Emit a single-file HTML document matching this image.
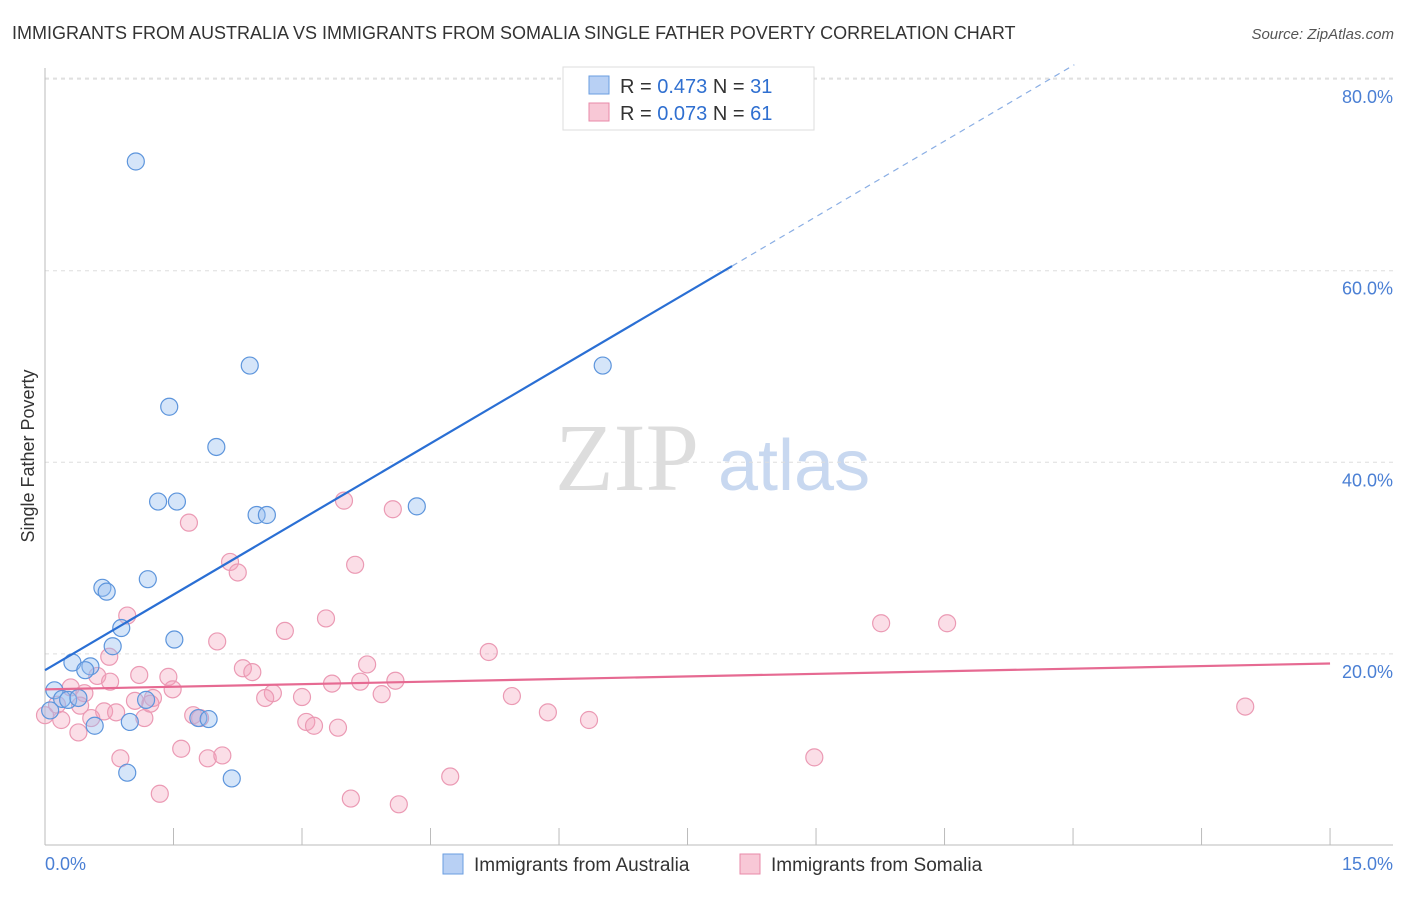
<!DOCTYPE html>
<html><head><meta charset="utf-8"><style>
body{margin:0;background:#fff;font-family:"Liberation Sans",sans-serif}
</style></head><body>
<svg width="1406" height="892" xmlns="http://www.w3.org/2000/svg" font-family="Liberation Sans, sans-serif">
<text x="12" y="39" font-size="18" fill="#333">IMMIGRANTS FROM AUSTRALIA VS IMMIGRANTS FROM SOMALIA SINGLE FATHER POVERTY CORRELATION CHART</text>
<text x="1394" y="39" font-size="15" fill="#555" text-anchor="end" font-style="italic">Source: ZipAtlas.com</text>
<text x="555" y="490" font-size="96" fill="#ddd" font-family="Liberation Serif, serif">ZIP</text>
<text x="718" y="490" font-size="72" fill="#c8d8f0">atlas</text>
<g id="grid"></g>
<line x1="45" y1="68" x2="45" y2="845" stroke="#bbb"/>
<line x1="45" y1="845" x2="1393" y2="845" stroke="#bbb"/>
<text transform="translate(34,456) rotate(-90)" font-size="18" fill="#333" text-anchor="middle">Single Father Poverty</text>
<text x="45" y="870" font-size="18" fill="#4a7fd4">0.0%</text>
<text x="1393" y="870" font-size="18" fill="#4a7fd4" text-anchor="end">15.0%</text>
<g id="pts"></g>
<g id="lines"></g>
<g>
<rect x="563" y="67" width="251" height="63" fill="#fff" stroke="#ddd"/>
<rect x="589" y="76" width="20" height="18" fill="#b8d0f4" stroke="#6a9ee0"/>
<rect x="589" y="103" width="20" height="18" fill="#f8c8d6" stroke="#e88aa8"/>
<text x="620" y="93" font-size="20" fill="#333">R = <tspan fill="#2f6fd0">0.473</tspan>   N = <tspan fill="#2f6fd0">31</tspan></text>
<text x="620" y="120" font-size="20" fill="#333">R = <tspan fill="#2f6fd0">0.073</tspan>   N = <tspan fill="#2f6fd0">61</tspan></text>
</g>
<g>
<rect x="443" y="854" width="20" height="20" fill="#b8d0f4" stroke="#6a9ee0"/>
<text x="474" y="871" font-size="19" fill="#333">Immigrants from Australia</text>
<rect x="740" y="854" width="20" height="20" fill="#f8c8d6" stroke="#e88aa8"/>
<text x="771" y="871" font-size="19" fill="#333">Immigrants from Somalia</text>
</g>
</svg>
<script>
const yTicks=[20,40,60,80];
const yTickLabels=["20.0%","40.0%","60.0%","80.0%"];
const xTicks=[0,1.5,3,4.5,6,7.5,9,10.5,12,13.5,15];
const ausX=[1.06,2.39,1.45,2.00,1.32,1.54,2.47,2.59,4.34,6.51,0.67,0.72,1.20,0.89,1.51,0.79,0.32,0.53,0.47,0.11,0.20,0.27,0.39,1.18,0.58,0.99,1.79,1.91,0.96,2.18,0.06];
const ausY=[71.4,50.1,45.8,41.6,35.9,35.9,34.5,34.5,35.4,50.1,26.9,26.5,27.8,22.7,21.5,20.8,19.1,18.7,18.3,16.2,15.3,15.2,15.4,15.2,12.5,12.9,13.3,13.2,7.6,7.0,14.1];
const somX=[1.68,3.49,4.06,2.16,2.25,3.62,0.96,3.28,2.80,2.01,0.75,5.18,3.76,2.31,2.42,1.10,1.44,0.61,0.30,1.49,0.46,3.35,3.68,4.09,2.66,2.57,3.00,3.93,1.26,1.05,5.45,9.76,10.53,14.01,0.69,0.83,1.16,0.54,0.19,1.73,1.81,3.05,3.14,3.42,5.87,6.35,0.39,1.59,0.88,1.90,2.07,8.98,4.73,1.34,3.57,4.13,0.0,0.14,0.76,1.23,0.41];
const somY=[33.7,36.0,35.1,29.6,28.5,29.3,24.0,23.7,22.4,21.3,19.7,20.2,18.9,18.5,18.1,17.8,17.6,17.7,16.5,16.3,15.9,16.9,17.1,17.2,15.9,15.4,15.5,15.8,15.4,15.1,15.6,23.2,23.2,14.5,14.0,13.9,13.3,13.3,13.1,13.6,13.3,12.9,12.5,12.3,13.9,13.1,11.8,10.1,9.1,9.1,9.4,9.2,7.2,5.4,4.9,4.3,13.6,14.7,17.1,14.8,14.6];
const ausTrend=[18.3,5.26];
const somTrend=[16.3,0.18];
const X=v=>45+v*85.67, Y=v=>845.5-v*9.58;
const NS="http://www.w3.org/2000/svg";
function mk(tag,attrs,parent){const e=document.createElementNS(NS,tag);for(const k in attrs)e.setAttribute(k,attrs[k]);parent.appendChild(e);return e;}
const grid=document.getElementById('grid');
yTicks.forEach((t,i)=>{
 const l=mk('line',{x1:45,x2:1393,y1:Y(t),y2:Y(t),stroke:'#ddd','stroke-dasharray':'4,4'},grid);
 
 
 const tx=mk('text',{x:1393,y:Y(t)+24,'font-size':18,fill:'#4a7fd4','text-anchor':'end'},grid);
 tx.textContent=yTickLabels[i];
 
 
});
mk('line',{x1:45,x2:1393,y1:Y(80)-1,y2:Y(80)-1,stroke:'#ddd','stroke-dasharray':'4,4'},grid);
xTicks.forEach(t=>{
 const l=mk('line',{x1:X(t),x2:X(t),y1:845,y2:828,stroke:'#bbb'},grid);
 
 
});
const pts=document.getElementById('pts');
somX.forEach((x,i)=>{
 const c=mk('circle',{cx:X(x),cy:Y(somY[i]),r:8.5,fill:'rgba(244,160,186,0.35)',stroke:'#eb9ab4','stroke-width':1.2},pts);
 
 
});
ausX.forEach((x,i)=>{
 const c=mk('circle',{cx:X(x),cy:Y(ausY[i]),r:8.5,fill:'rgba(150,190,240,0.4)',stroke:'#5d95dc','stroke-width':1.2},pts);
 
 
});
const lines=document.getElementById('lines');
const f=(tr,x)=>tr[0]+tr[1]*x;
let l1=mk('line',{x1:X(0),y1:Y(f(ausTrend,0)),x2:X(8.02),y2:Y(f(ausTrend,8.02)),stroke:'#2a6fd4','stroke-width':2.2},lines);


const xe=(81.5-ausTrend[0])/ausTrend[1];
let l2=mk('line',{x1:X(8.02),y1:Y(f(ausTrend,8.02)),x2:X(xe),y2:Y(f(ausTrend,xe)),stroke:'#8aaee4','stroke-width':1.2,'stroke-dasharray':'6,5'},lines);


let l3=mk('line',{x1:X(0),y1:Y(f(somTrend,0)),x2:X(15),y2:Y(f(somTrend,15)),stroke:'#e66a92','stroke-width':2.2},lines);


</script>
</body></html>
